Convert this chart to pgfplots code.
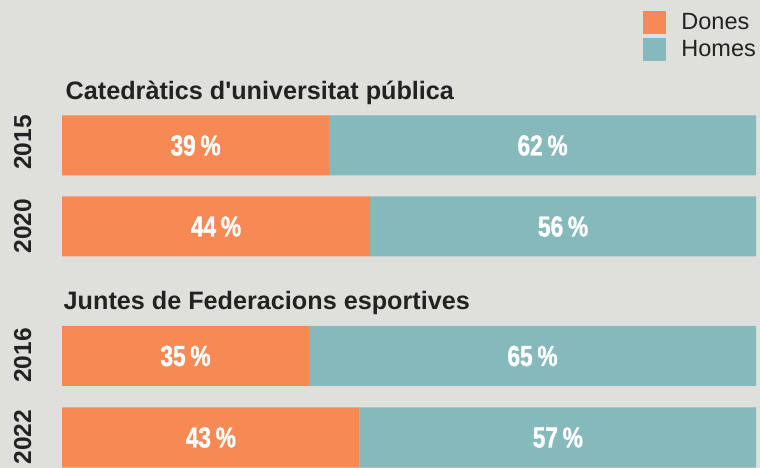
\documentclass[border=0pt]{standalone}
\usepackage{pgfplots}
\pgfplotsset{compat=1.18}
\usepackage{fontspec}
\setmainfont{Liberation Sans}
\newfontfamily\bfont{Liberation Sans Bold}
\newfontfamily\condfont[FakeStretch=0.78,FakeBold=1.2]{Liberation Sans Bold}
\definecolor{bg}{HTML}{DFE0DB}
\definecolor{orng}{HTML}{F78A54}
\definecolor{teal2}{HTML}{85B9BB}
\definecolor{tx}{HTML}{222222}
\pgfplotsset{
  base/.style={at={(0,0)}, anchor=south west, scale only axis,
    width=760bp, height=468bp, xmin=-8.934, xmax=100.576, ymin=0, ymax=468,
    hide axis, clip=false},
  sq/.style={legend image code/.code={\fill[##1] (0bp,-11.65bp) rectangle (23.3bp,11.65bp); \path (38.4bp,0bp);}},
}
\begin{document}
\begin{tikzpicture}
\fill[bg] (0,0) rectangle (760bp,468bp);
\begin{axis}[base, xbar stacked, bar width=60,
  legend style={at={(0.8461,0.9765)}, anchor=north west, draw=none, fill=none,
    inner sep=0pt, outer sep=0pt, row sep=3.4bp,
    font=\fontsize{23.5bp}{24bp}\selectfont, text=tx, nodes={inner sep=0pt}},
  legend cell align=left]
\addplot[fill=orng, draw=none, sq] coordinates {(38.5,322.5) (44.4,241.5) (35.6,112) (42.9,30.5)};
\addlegendentry{Dones}
\addplot[fill=teal2, draw=none, sq] coordinates {(61.5,322.5) (55.6,241.5) (64.4,112) (57.1,30.5)};
\addlegendentry{Homes}
\end{axis}
\begin{axis}[base]
\addplot[only marks, mark=none, nodes near coords, point meta=explicit symbolic,
  nodes near coords style={font=\condfont\fontsize{29bp}{30bp}\selectfont, text=white, anchor=center, inner sep=0pt}]
  coordinates {(19.25,322.5) [39\,\%] (69.25,322.5) [62\,\%]
               (22.2,241.5) [44\,\%] (72.2,241.5) [56\,\%]
               (17.8,112) [35\,\%] (67.8,112) [65\,\%]
               (21.45,30.5) [43\,\%] (71.45,30.5) [57\,\%]};
\end{axis}
\node[anchor=base west, inner sep=0pt, font=\bfont\fontsize{25.2bp}{26bp}\selectfont, text=tx] at (65.5bp,368.7bp) {Catedràtics d'universitat pública};
\node[anchor=base west, inner sep=0pt, font=\bfont\fontsize{25.2bp}{26bp}\selectfont, text=tx] at (63.5bp,158.7bp) {Juntes de Federacions esportives};
\foreach \yr/\yy in {2015/325.5, 2020/242, 2016/112.5, 2022/31} {
  \node[rotate=90, anchor=base, inner sep=0pt, font=\bfont\fontsize{24.5bp}{25bp}\selectfont, text=tx] at (31.2bp,\yy bp) {\yr};
}
\end{tikzpicture}
\end{document}
